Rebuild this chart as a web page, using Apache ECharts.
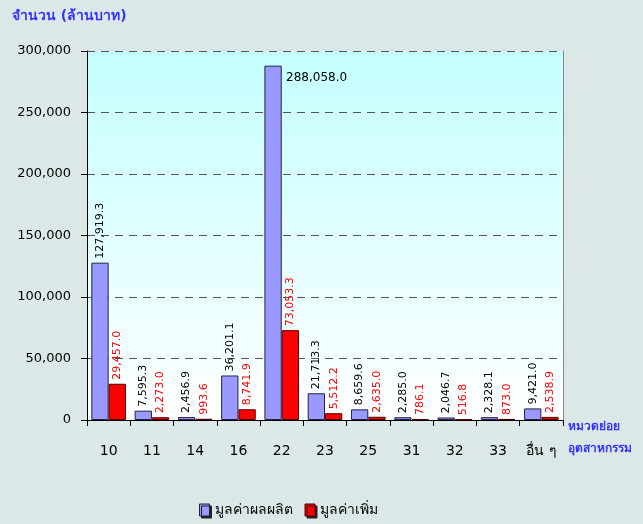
<!DOCTYPE html>
<html>
<head>
<meta charset="utf-8">
<script src="https://cdn.jsdelivr.net/npm/echarts@6/dist/echarts.min.js"></script>
<style>
  html, body { margin: 0; padding: 0; background: #dce8e8; }
  #chart { width: 643px; height: 524px; }
</style>
</head>
<body>
<div id="chart"></div>
<script>
const categories = ['10', '11', '14', '16', '22', '23', '25', '31', '32', '33', 'อื่น ๆ']
const productionValue = [127919.3, 7595.3, 2456.9, 36201.1, 288058.0, 21713.3, 8659.6, 2285.0, 2046.7, 2328.1, 9421.0]
const addedValue = [29457.0, 2273.0, 993.6, 8741.9, 73053.3, 5512.2, 2635.0, 786.1, 516.8, 873.0, 2538.9]
const seriesNames = ['มูลค่าผลผลิต', 'มูลค่าเพิ่ม']

const fontFamily = 'Tahoma, "DejaVu Sans", "Noto Sans", sans-serif'

function fmt(v) {
  return v.toLocaleString('en-US', {minimumFractionDigits: 1, maximumFractionDigits: 1})
}

let chart = echarts.init(document.getElementById('chart'))

// the biggest bar gets its label flat, on the right of the bar top
let prodData = productionValue.map(v => {
  if (v === Math.max(...productionValue)) {
    return {
      value: v,
      label: {rotate: 0, position: ['125%', 12], align: 'left', verticalAlign: 'middle', fontSize: 12}
    }
  }
  return v
})

let option = {
  backgroundColor: '#dce8e8',
  textStyle: {fontFamily: fontFamily},
  grid: {
    left: 87,
    right: 80,
    top: 51,
    bottom: 104,
    show: true,
    borderWidth: 0,
    backgroundColor: new echarts.graphic.LinearGradient(0, 0, 0, 1, [
      {offset: 0, color: '#c4ffff'},
      {offset: 1, color: '#ffffff'}
    ])
  },
  legend: {
    bottom: 2,
    left: 194,
    icon: 'rect',
    itemWidth: 10,
    itemHeight: 12,
    itemGap: 12,
    textStyle: {fontSize: 14, color: '#000', fontFamily: fontFamily},
    data: [
      {name: seriesNames[0], itemStyle: {color: '#9999ff', borderColor: '#222244', borderWidth: 1, shadowColor: '#222', shadowOffsetX: 2, shadowOffsetY: 2}},
      {name: seriesNames[1], itemStyle: {color: '#ff0000', borderColor: '#550000', borderWidth: 1, shadowColor: '#222', shadowOffsetX: 2, shadowOffsetY: 2}}
    ]
  },
  xAxis: {
    type: 'category',
    data: categories,
    name: 'หมวดย่อย\nอุตสาหกรรม',
    nameLocation: 'end',
    nameGap: 5,
    nameTextStyle: {
      color: '#3333ff', fontWeight: 'bold', fontSize: 12, lineHeight: 22,
      align: 'left', verticalAlign: 'top', padding: [-4, 0, 0, 0]
    },
    axisLine: {lineStyle: {color: '#000', width: 1}},
    axisTick: {show: true, length: 6, lineStyle: {color: '#000'}},
    axisLabel: {color: '#000', fontSize: 14, margin: 24}
  },
  yAxis: [
    {
      type: 'value',
      min: 0,
      max: 300000,
      interval: 50000,
      name: 'จำนวน (ล้านบาท)',
      nameLocation: 'end',
      nameGap: 28,
      nameTextStyle: {color: '#3333ff', fontWeight: 'bold', fontSize: 14, align: 'left', padding: [0, 0, 0, -75]},
      axisLine: {show: true, lineStyle: {color: '#000', width: 1}},
      axisTick: {show: true, length: 6, lineStyle: {color: '#000'}},
      axisLabel: {
        color: '#000',
        fontSize: 13,
        margin: 16,
        formatter: v => v.toLocaleString('en-US')
      },
      splitLine: {lineStyle: {color: '#555', type: [8, 6], width: 1}}
    },
    {
      type: 'value',
      position: 'right',
      min: 0,
      max: 300000,
      axisLine: {show: true, lineStyle: {color: '#888', width: 1}},
      axisTick: {show: false},
      axisLabel: {show: false},
      splitLine: {show: false}
    }
  ],
  series: [
    {
      name: seriesNames[0],
      type: 'bar',
      data: prodData,
      barGap: '0%',
      barCategoryGap: '20%',
      itemStyle: {color: '#9999ff', borderColor: '#222244', borderWidth: 1},
      label: {
        show: true,
        position: 'top',
        rotate: 90,
        align: 'left',
        verticalAlign: 'middle',
        distance: 4,
        color: '#000',
        fontSize: 11,
        formatter: p => fmt(p.value)
      }
    },
    {
      name: seriesNames[1],
      type: 'bar',
      data: addedValue,
      itemStyle: {color: '#ff0000', borderColor: '#550000', borderWidth: 1},
      label: {
        show: true,
        position: 'top',
        rotate: 90,
        align: 'left',
        verticalAlign: 'middle',
        distance: 4,
        color: '#ff0000',
        fontSize: 11,
        formatter: p => fmt(p.value)
      }
    }
  ]
}

chart.setOption(option)
</script>
</body>
</html>
